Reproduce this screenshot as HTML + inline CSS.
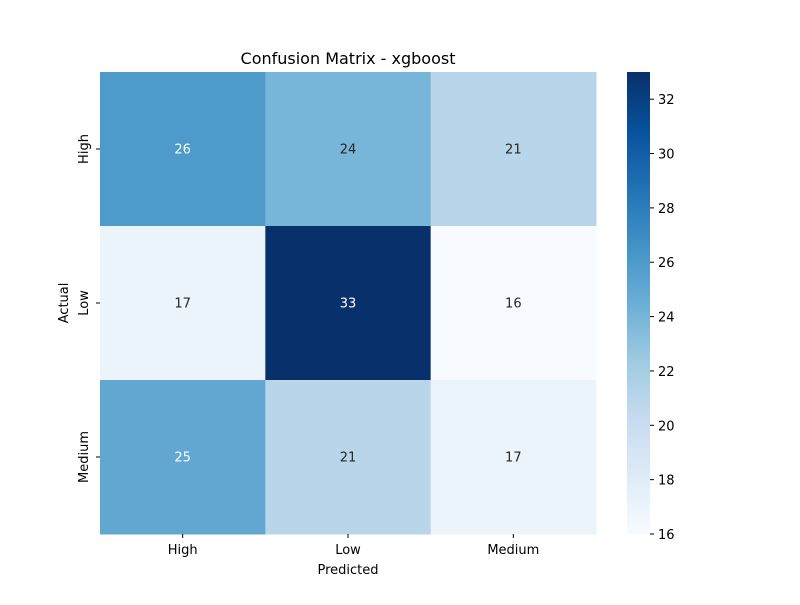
<!DOCTYPE html>
<html><head><meta charset="utf-8"><style>
body{margin:0;background:#fff;}
svg text{font-family:"DejaVu Sans","Liberation Sans",sans-serif;}
</style></head><body>
<svg id="chart" width="800" height="600" xmlns="http://www.w3.org/2000/svg">
<defs><linearGradient id="cbg" x1="0" y1="1" x2="0" y2="0">
<stop offset="0" stop-color="#f7fbff"/><stop offset="0.125" stop-color="#deebf7"/><stop offset="0.25" stop-color="#c6dbef"/><stop offset="0.375" stop-color="#9ecae1"/><stop offset="0.5" stop-color="#6baed6"/><stop offset="0.625" stop-color="#4292c6"/><stop offset="0.75" stop-color="#2171b5"/><stop offset="0.875" stop-color="#08519c"/><stop offset="1" stop-color="#08306b"/>
</linearGradient></defs>
<text x="348" y="64" font-size="16" text-anchor="middle" fill="#000">Confusion Matrix - xgboost</text>
<g id="cells"></g>
<text x="348" y="574" font-size="13" text-anchor="middle">Predicted</text>
<text transform="translate(68,303) rotate(-90)" font-size="13" text-anchor="middle">Actual</text>
<rect x="627" y="72" width="23" height="462" fill="url(#cbg)"/>
<g id="cbticks"></g>
</svg>
<script>
const categories = ["High","Low","Medium"];
const matrix = [[26,24,21],[17,33,16],[25,21,17]];
const cbTicks = [16,18,20,22,24,26,28,30,32];

const NS="http://www.w3.org/2000/svg";
const stops=[[247,251,255],[222,235,247],[198,219,239],[158,202,225],[107,174,214],[66,146,198],[33,113,181],[8,81,156],[8,48,107]];
const L=100,R=596,T=72,B=534;
const flat=matrix.flat();
const vmin=Math.min(...flat),vmax=Math.max(...flat);
function cmap(t){t=Math.max(0,Math.min(1,t))*8;const i=Math.min(7,Math.floor(t)),f=t-i;
 return stops[i].map((c,k)=>Math.round(c+(stops[i+1][k]-c)*f));}
function lum(c){const l=c.map(v=>{v/=255;return v<=0.03928?v/12.92:Math.pow((v+0.055)/1.055,2.4);});return 0.2126*l[0]+0.7152*l[1]+0.0722*l[2];}
const n=categories.length,cw=(R-L)/n,ch=(B-T)/n;
const g=document.getElementById('cells');
function mk(tag,attrs,parent){const e=document.createElementNS(NS,tag);for(const k in attrs)e.setAttribute(k,attrs[k]);parent.appendChild(e);return e;}
matrix.forEach((row,i)=>row.forEach((v,j)=>{
 const c=cmap((v-vmin)/(vmax-vmin));
 const r=mk('rect',{x:L+j*cw,y:T+i*ch,width:cw+0.5,height:ch+0.5,fill:`rgb(${c})`},g);
 
 
 const t=mk('text',{x:L+(j+0.5)*cw,y:T+(i+0.5)*ch+4.5,'font-size':13,'text-anchor':'middle',fill:lum(c)>0.408?'#262626':'#fff'},g);
 t.textContent=v;
 
 
}));
categories.forEach((c,j)=>{
 const x=L+(j+0.5)*cw;
 mk('line',{x1:x,x2:x,y1:B,y2:B+4,stroke:'#000'},g);
 const t=mk('text',{x:x,y:B+20,'font-size':13,'text-anchor':'middle'},g);t.textContent=c;
 
 
 const y=T+(j+0.5)*ch;
 mk('line',{x1:L-4,x2:L,y1:y,y2:y,stroke:'#000'},g);
 const t2=mk('text',{transform:`translate(${L-12},${y}) rotate(-90)`,'font-size':13,'text-anchor':'middle'},g);t2.textContent=c;
 
 
});
const cb=document.getElementById('cbticks');
cbTicks.forEach(v=>{
 const y=B-(v-vmin)/(vmax-vmin)*(B-T);
 mk('line',{x1:650,x2:654,y1:y,y2:y,stroke:'#000'},cb);
 const t=mk('text',{x:658,y:y+5,'font-size':13},cb);t.textContent=v;
 
 
});
</script>
</body></html>
